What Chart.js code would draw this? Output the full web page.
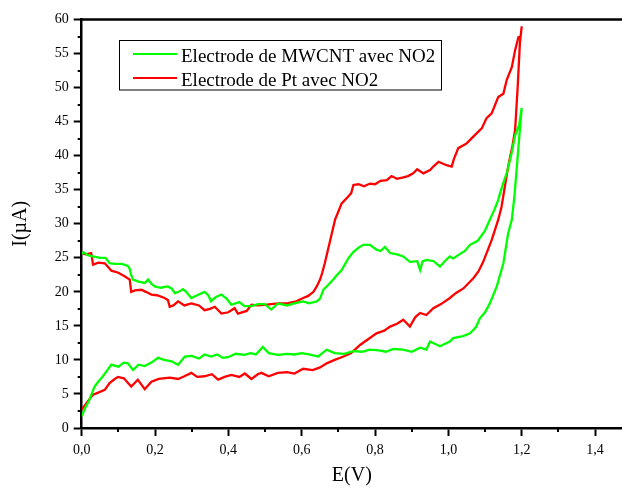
<!DOCTYPE html>
<html>
<head>
<meta charset="utf-8">
<script src="https://cdn.jsdelivr.net/npm/chart.js@4"></script>
<style>
  html, body { margin: 0; padding: 0; background: #fff; }
  #wrap { width: 622px; height: 488px; }
</style>
</head>
<body>
<div id="wrap"><canvas id="cv" width="622" height="488"></canvas></div>
<script>
// séries : aller (0 -> 1,2 V) puis retour (1,2 -> 0 V)
const seriesLabels = ['Electrode de MWCNT avec NO2', 'Electrode de Pt avec NO2'];

const mwcntE = [0, 0.01, 0.02, 0.035, 0.045, 0.058, 0.07, 0.081, 0.1, 0.115, 0.126, 0.14, 0.155, 0.172, 0.19, 0.208,
  0.225, 0.245, 0.263, 0.281, 0.3, 0.32, 0.335, 0.353, 0.37, 0.385, 0.399, 0.42, 0.444, 0.46, 0.475, 0.494, 0.51,
  0.535, 0.56, 0.58, 0.6, 0.62, 0.645, 0.668, 0.69, 0.715, 0.741, 0.765, 0.786, 0.81, 0.83, 0.85, 0.877, 0.9, 0.923,
  0.94, 0.95, 0.977, 1.004, 1.013, 1.04, 1.059, 1.075, 1.086, 1.1, 1.113, 1.132, 1.15, 1.163, 1.173, 1.18, 1.186,
  1.193, 1.2,
  1.193, 1.182, 1.173, 1.16, 1.15, 1.141, 1.136, 1.125, 1.113, 1.1, 1.095, 1.08, 1.059, 1.045, 1.03, 1.013, 1.004,
  0.99, 0.977, 0.96, 0.941, 0.93, 0.923, 0.915, 0.895, 0.877, 0.86, 0.841, 0.827, 0.815, 0.804, 0.786, 0.768, 0.755,
  0.74, 0.727, 0.709, 0.695, 0.686, 0.672, 0.659, 0.65, 0.641, 0.62, 0.604, 0.58, 0.56, 0.535, 0.517, 0.499, 0.481,
  0.463, 0.444, 0.43, 0.408, 0.395, 0.381, 0.365, 0.353, 0.345, 0.335, 0.315, 0.299, 0.285, 0.276, 0.265, 0.254,
  0.245, 0.235, 0.215, 0.199, 0.19, 0.181, 0.172, 0.155, 0.14, 0.135, 0.13, 0.126, 0.11, 0.09, 0.076, 0.065, 0.05,
  0.03, 0.017, 0.005, 0];
const mwcntI = [1.7, 3.0, 4.0, 6.1, 6.8, 7.6, 8.5, 9.3, 9.0, 9.6, 9.5, 8.5, 9.3, 9.1, 9.6, 10.3,
  10.0, 9.8, 9.3, 10.5, 10.6, 10.2, 10.8, 10.5, 10.8, 10.3, 10.4, 10.9, 10.75, 11.0, 10.8, 11.9, 11.0,
  10.75, 10.9, 10.8, 11.0, 10.8, 10.5, 11.5, 11.0, 10.9, 11.3, 11.2, 11.5, 11.4, 11.2, 11.6, 11.5, 11.2, 11.8,
  11.5, 12.7, 12.0, 12.7, 13.2, 13.5, 13.9, 14.8, 16.1, 17.0, 18.3, 20.8, 24.2, 28.6, 30.6, 34.0, 37.9,
  42.5, 47.0,
  44.5, 43.0, 40.5, 37.6, 36.0, 34.5, 33.5, 32.0, 30.6, 29.0, 28.6, 27.5, 26.9, 26.0, 25.5, 24.9, 25.2,
  24.5, 23.7, 24.5, 24.7, 24.5, 23.2, 24.5, 24.4, 25.2, 25.5, 25.7, 26.6, 26.0, 26.2, 26.9, 26.9, 26.5,
  25.8, 24.9, 23.2, 22.4, 21.8, 21.0, 20.3, 19.0, 18.6, 18.3, 18.6, 18.3, 18.0, 18.3, 17.4, 18.2, 18.2,
  17.9, 17.9, 18.5, 18.1, 19.0, 19.6, 19.2, 18.6, 19.5, 20.0, 19.5, 19.1, 20.0, 20.4, 20.0, 19.8,
  20.5, 20.8, 20.6, 20.8, 21.2, 21.8, 21.3, 21.5, 21.8, 22.5, 23.5, 23.8, 24.1, 24.1, 24.2, 25.0, 25.0,
  25.2, 25.4, 25.8, 25.6];

const ptE = [0, 0.015, 0.031, 0.045, 0.063, 0.076, 0.09, 0.099, 0.115, 0.135, 0.153, 0.172, 0.19, 0.21, 0.24,
  0.263, 0.28, 0.299, 0.315, 0.335, 0.355, 0.372, 0.39, 0.408, 0.43, 0.445, 0.463, 0.48, 0.49, 0.51, 0.535, 0.56,
  0.58, 0.604, 0.63, 0.65, 0.668, 0.69, 0.714, 0.735, 0.759, 0.78, 0.804, 0.825, 0.841, 0.86, 0.877, 0.895, 0.91,
  0.923, 0.94, 0.959, 0.98, 1.004, 1.02, 1.041, 1.068, 1.082, 1.095, 1.118, 1.136, 1.145, 1.163, 1.175, 1.182,
  1.189, 1.195, 1.2,
  1.197, 1.191, 1.182, 1.173, 1.159, 1.15, 1.136, 1.118, 1.104, 1.091, 1.068, 1.05, 1.027, 1.015, 1.009, 0.995,
  0.973, 0.959, 0.95, 0.932, 0.915, 0.904, 0.89, 0.877, 0.86, 0.845, 0.832, 0.815, 0.8, 0.786, 0.77, 0.755, 0.741,
  0.735, 0.727, 0.709, 0.7, 0.691, 0.684, 0.677, 0.67, 0.663, 0.656, 0.65, 0.641, 0.632, 0.618, 0.604, 0.585, 0.56,
  0.535, 0.517, 0.499, 0.48, 0.463, 0.45, 0.426, 0.417, 0.4, 0.381, 0.363, 0.35, 0.335, 0.32, 0.299, 0.28, 0.263,
  0.25, 0.24, 0.235, 0.226, 0.205, 0.19, 0.175, 0.163, 0.145, 0.135, 0.131, 0.117, 0.1, 0.081, 0.063, 0.045, 0.031,
  0.026, 0.01, 0];
const ptI = [2.7, 3.8, 4.9, 5.2, 5.6, 6.6, 7.2, 7.5, 7.3, 6.1, 7.1, 5.7, 6.8, 7.2, 7.4,
  7.2, 7.6, 8.1, 7.5, 7.6, 7.9, 7.1, 7.5, 7.8, 7.5, 8.0, 7.2, 7.9, 8.1, 7.6, 8.1, 8.2,
  8.0, 8.7, 8.5, 8.9, 9.5, 10.0, 10.5, 11.0, 12.2, 13.0, 13.9, 14.3, 14.9, 15.3, 15.9, 14.9, 16.3,
  16.9, 16.6, 17.6, 18.2, 19.1, 19.8, 20.5, 22.0, 23.0, 24.4, 27.6, 30.6, 32.5, 38.4, 41.5, 43.8,
  50.1, 56.5, 59.0,
  57.5, 57.4, 55.5, 53.0, 51.1, 49.1, 48.6, 46.2, 45.5, 44.0, 42.8, 41.8, 41.1, 39.5, 38.4, 38.6,
  39.1, 38.4, 37.9, 37.4, 38.0, 37.4, 37.0, 36.8, 36.6, 37.0, 36.4, 36.3, 35.8, 35.9, 35.5, 35.8, 35.7,
  34.5, 34.0, 33.0, 31.8, 30.6, 29.0, 27.4, 25.8, 24.2, 22.8, 21.8, 20.8, 20.0, 19.4, 19.1, 18.6, 18.3,
  18.3, 18.2, 18.1, 18.0, 18.1, 17.2, 16.8, 17.6, 17.0, 16.8, 17.8, 17.5, 17.3, 18.0, 18.3, 18.0, 18.6,
  18.0, 17.8, 18.8, 19.1, 19.5, 19.6, 20.0, 20.3, 20.2, 20.0, 21.8, 22.3, 22.8, 23.1, 24.2, 24.3, 24.0,
  25.7, 25.5, 25.7];

const xMajorTicks = [0, 0.2, 0.4, 0.6, 0.8, 1.0, 1.2, 1.4];
const xMinorTicks = [0.1, 0.3, 0.5, 0.7, 0.9, 1.1, 1.3];
const yMajorTicks = [0, 5, 10, 15, 20, 25, 30, 35, 40, 45, 50, 55, 60];
const yMinorTicks = [2.5, 7.5, 12.5, 17.5, 22.5, 27.5, 32.5, 37.5, 42.5, 47.5, 52.5, 57.5];

const SERIF = "'Liberation Serif', 'Times New Roman', serif";

function toPoints(xs, ys) {
  return xs.map((x, i) => ({ x: x, y: ys[i] }));
}

// cadre du haut, petites graduations et légende encadrée
const framePlugin = {
  id: 'frame',
  afterDraw(chart) {
    const ctx = chart.ctx;
    const area = chart.chartArea;
    const xs = chart.scales.x, ys = chart.scales.y;
    ctx.save();
    ctx.strokeStyle = '#000';
    ctx.lineWidth = 2.5;
    ctx.beginPath();
    ctx.moveTo(area.left - 1.25, area.top);
    ctx.lineTo(chart.width, area.top);
    ctx.stroke();

    ctx.lineWidth = 2;
    ctx.beginPath();
    xMinorTicks.forEach(v => {
      const px = Math.round(xs.getPixelForValue(v));
      ctx.moveTo(px, area.bottom);
      ctx.lineTo(px, area.bottom + 4);
    });
    yMinorTicks.forEach(v => {
      const py = Math.round(ys.getPixelForValue(v));
      ctx.moveTo(area.left, py);
      ctx.lineTo(area.left - 4, py);
    });
    ctx.stroke();

    // légende
    const bx = 119.5, by = 40.5, bw = 322, bh = 49.5;
    ctx.fillStyle = '#fff';
    ctx.fillRect(bx, by, bw, bh);
    ctx.lineWidth = 1;
    ctx.strokeRect(bx, by, bw, bh);
    ctx.font = '19px ' + SERIF;
    ctx.textBaseline = 'alphabetic';
    chart.data.datasets.forEach((ds, i) => {
      const ly = 54 + i * 24;
      ctx.strokeStyle = ds.borderColor;
      ctx.lineWidth = 2;
      ctx.beginPath();
      ctx.moveTo(133, ly);
      ctx.lineTo(177, ly);
      ctx.stroke();
      ctx.fillStyle = '#000';
      ctx.fillText(ds.label, 181, ly + 7.5);
    });
    ctx.restore();
  }
};

new Chart(document.getElementById('cv'), {
  type: 'scatter',
  data: {
    datasets: [{
      label: seriesLabels[0],
      data: toPoints(mwcntE, mwcntI),
      showLine: true,
      borderColor: '#00ff00',
      borderWidth: 2.3,
      pointRadius: 0,
      tension: 0
    }, {
      label: seriesLabels[1],
      data: toPoints(ptE, ptI),
      showLine: true,
      borderColor: '#ff0000',
      borderWidth: 2.3,
      pointRadius: 0,
      tension: 0
    }]
  },
  options: {
    responsive: false,
    animation: false,
    layout: { padding: { top: 19.5, left: 0, right: 0, bottom: 0 } },
    plugins: {
      legend: { display: false },
      tooltip: { enabled: false }
    },
    scales: {
      x: {
        type: 'linear',
        min: 0,
        max: 1.4735,
        afterFit: s => { s.height = 60; s.paddingRight = 0; s.paddingLeft = 0; },
        afterBuildTicks: s => { s.ticks = xMajorTicks.map(v => ({ value: v })); },
        border: { color: '#000', width: 2.5 },
        grid: { drawOnChartArea: false, drawTicks: true, tickLength: 8, tickColor: '#000', tickWidth: 2 },
        ticks: {
          color: '#000',
          padding: 6,
          maxRotation: 0,
          font: { family: SERIF, size: 14 },
          callback: v => v.toFixed(1).replace('.', ',')
        },
        title: {
          display: true,
          text: 'E(V)',
          color: '#000',
          font: { family: SERIF, size: 20 },
          padding: { top: 0, bottom: 0 }
        }
      },
      y: {
        type: 'linear',
        min: 0,
        max: 60,
        afterFit: s => { s.width = 81.7; },
        afterBuildTicks: s => { s.ticks = yMajorTicks.map(v => ({ value: v })); },
        border: { color: '#000', width: 2.5 },
        grid: { drawOnChartArea: false, drawTicks: true, tickLength: 8, tickColor: '#000', tickWidth: 2 },
        ticks: {
          color: '#000',
          padding: 5,
          font: { family: SERIF, size: 14 },
          callback: v => String(v)
        },
        title: {
          display: true,
          text: 'I(µA)',
          color: '#000',
          font: { family: SERIF, size: 20 },
          padding: { top: 9, bottom: 0 }
        }
      }
    }
  },
  plugins: [framePlugin]
});
</script>
</body>
</html>
